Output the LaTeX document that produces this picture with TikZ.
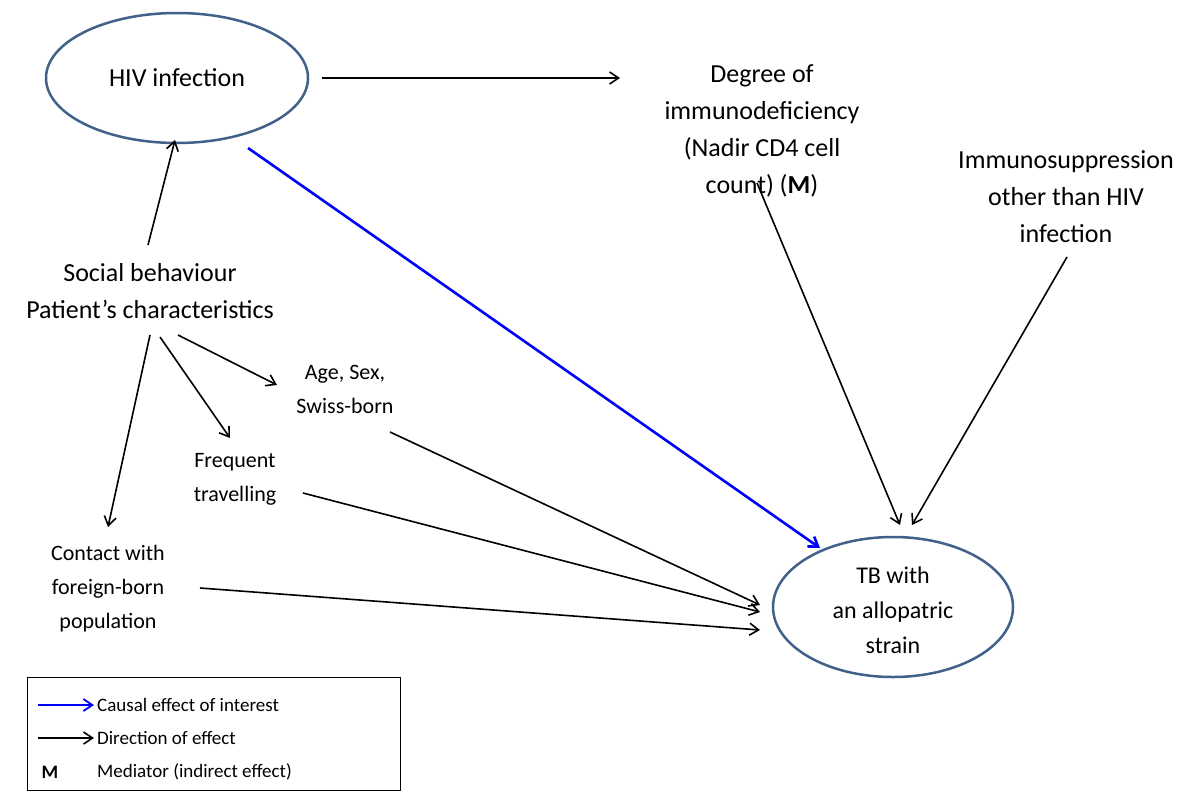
\documentclass[tikz,border=0pt]{standalone}
\usepackage{fontspec}
\setmainfont{Carlito}
\usetikzlibrary{arrows.meta,shapes.geometric}
\definecolor{ellc}{HTML}{41608A}
\begin{document}
\begin{tikzpicture}[x=1pt,y=-1pt,
  ell/.style={draw=ellc,line width=2.5pt,ellipse},
  lbl/.style={align=center,font=\fontsize{26}{37}\selectfont,inner sep=0},
  sml/.style={align=center,font=\fontsize{22}{34}\selectfont,inner sep=0},
  arr/.style={-{Straight Barb[length=9pt,width=12pt]},line width=1.6pt},
  barr/.style={arr,blue,line width=2.6pt}]
\useasboundingbox (0,0) rectangle (1198,800);
\node[ell,minimum width=262pt,minimum height=130pt] (hiv) at (177,78) {};
\node[lbl] (hivt) at (177,78) {HIV infection};
\node[ell,minimum width=240pt,minimum height=140pt] (tb) at (893,607) {};
\node[lbl,font=\fontsize{24}{35}\selectfont] (tbt) at (893,610) {TB with\\an allopatric\\strain};
\node[lbl] (deg) at (762,131) {Degree of\\immunodeficiency\\(Nadir CD4 cell\\count) (\textbf{M})};
\node[lbl] (imm) at (1066,197) {Immunosuppression\\other than HIV\\infection};
\node[lbl] (soc) at (150,291) {Social behaviour\\Patient’s characteristics};
\node[sml] (age) at (345,389) {Age, Sex,\\Swiss-born};
\node[sml] (trav) at (235,479) {Frequent\\travelling};
\node[sml] (cont) at (108,589) {Contact with\\foreign-born\\population};
\coordinate (a1) at (322,78); \coordinate (a2) at (620,78);
\coordinate (b1) at (148,245); \coordinate (b2) at (175,140);
\coordinate (c1) at (248,148); \coordinate (c2) at (820,548);
\coordinate (d1) at (757,183); \coordinate (d2) at (900,525);
\coordinate (e1) at (1067,257); \coordinate (e2) at (912,525);
\coordinate (f1) at (150,335); \coordinate (f2) at (108,527);
\coordinate (g1) at (160,337); \coordinate (g2) at (230,438);
\coordinate (h1) at (178,335); \coordinate (h2) at (277,385);
\coordinate (i1) at (390,432); \coordinate (i2) at (760,605);
\coordinate (j1) at (303,493); \coordinate (j2) at (760,612);
\coordinate (k1) at (200,588); \coordinate (k2) at (760,630);
\draw[arr] (a1) -- (a2);
\draw[arr] (b1) -- (b2);
\draw[barr] (c1) -- (c2);
\foreach \p in {d,e,f,g,h,i,j,k} \draw[arr] (\p1) -- (\p2);
\node[draw,line width=0.8pt,minimum width=373pt,minimum height=113pt,inner sep=0] (leg) at (213.5,733.5) {};
\coordinate (l1) at (38,705); \coordinate (l2) at (94,705);
\coordinate (m1) at (38,738); \coordinate (m2) at (94,738);
\draw[barr,line width=1.8pt] (l1) -- (l2);
\draw[arr] (m1) -- (m2);
\node[sml,font=\fontsize{19}{20}\selectfont,anchor=west] (t1) at (97,705) {Causal effect of interest};
\node[sml,font=\fontsize{19}{20}\selectfont,anchor=west] (t2) at (97,738) {Direction of effect};
\node[sml,font=\fontsize{19}{20}\selectfont\bfseries] (tm) at (50,772) {M};
\node[sml,font=\fontsize{19}{20}\selectfont,anchor=west] (t3) at (97,772) {Mediator (indirect effect)};
\end{tikzpicture}
\end{document}
